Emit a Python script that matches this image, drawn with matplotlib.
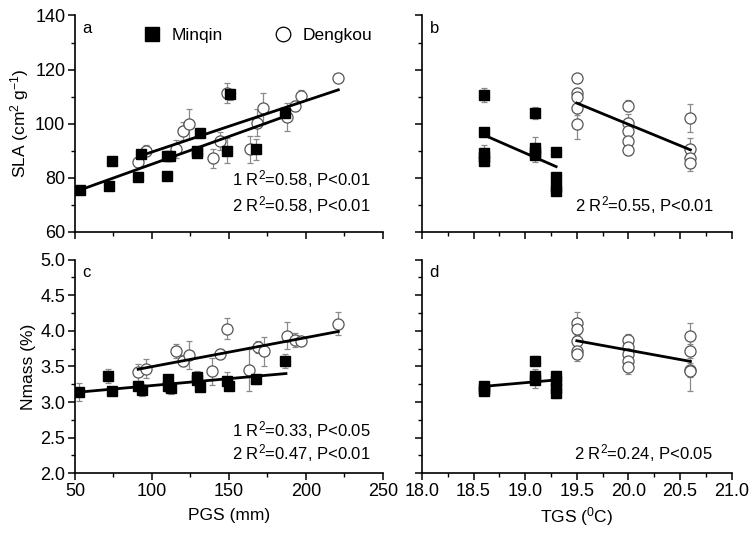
import matplotlib
matplotlib.use('Agg')
import matplotlib.pyplot as plt
from matplotlib.ticker import MultipleLocator
from matplotlib.lines import Line2D

plt.rcParams['font.family'] = ['Liberation Sans', 'DejaVu Sans']
plt.rcParams['mathtext.default'] = 'regular'

# ---- panel a: SLA vs PGS ----
a_minqin_x = [53, 72, 74, 91, 92.6, 110, 110, 112, 129, 129, 131, 148.5, 150.6, 167.5, 186.4]
a_minqin_y = [75.4, 76.9, 86.3, 80.4, 88.8, 80.6, 88.0, 88.0, 89.0, 90.0, 96.7, 90.0, 110.9, 90.5, 104.1]
a_minqin_e = [0.5, 0.5, 0.5, 0.5, 1.5, 0.5, 1.5, 1.5, 0.8, 0.8, 1.0, 4.6, 2.0, 3.8, 1.0]
a_dengkou_x = [91.1, 96, 115.5, 120.2, 124.2, 139.3, 144.4, 148.5, 163.6, 168.5, 172.4, 187.9, 192.9, 196.6, 221]
a_dengkou_y = [85.7, 90.0, 90.6, 97.2, 99.8, 87.2, 93.6, 111.3, 90.5, 100.4, 105.6, 102.3, 106.5, 110.3, 116.8]
a_dengkou_e = [1.5, 2.0, 3.5, 3.3, 5.5, 3.5, 3.4, 3.8, 5.0, 5.0, 5.7, 5.2, 2.0, 2.0, 0.5]
a_fit_minqin_x = [53, 186]
a_fit_minqin_y = [75.4, 102.6]
a_fit_dengkou_x = [91, 221]
a_fit_dengkou_y = [87.8, 112.5]

# ---- panel b: SLA vs TGS ----
b_minqin_x = [18.6, 18.6, 18.6, 18.6, 18.6, 19.1, 19.1, 19.1, 19.1, 19.3, 19.3, 19.3, 19.3]
b_minqin_y = [110.6, 96.8, 89.0, 87.8, 86.3, 103.9, 90.9, 89.6, 88.4, 89.4, 80.4, 76.7, 75.2]
b_minqin_e = [2.6, 0.5, 3.0, 0.5, 0.5, 2.2, 4.0, 0.5, 2.5, 1.0, 0.5, 0.5, 0.5]
b_dengkou_x = [19.5, 19.5, 19.5, 19.5, 19.5, 20.0, 20.0, 20.0, 20.0, 20.0, 20.6, 20.6, 20.6, 20.6]
b_dengkou_y = [116.8, 111.3, 110.0, 105.7, 99.8, 106.6, 100.4, 97.3, 93.7, 90.3, 102.2, 90.6, 87.2, 85.6]
b_dengkou_e = [0.5, 1.0, 3.0, 2.5, 5.5, 2.0, 3.0, 2.0, 2.0, 2.0, 5.2, 4.0, 2.0, 3.0]
b_fit_minqin_x = [18.6, 19.3]
b_fit_minqin_y = [95.8, 84.1]
b_fit_dengkou_x = [19.5, 20.6]
b_fit_dengkou_y = [107.6, 90.3]

# ---- panel c: Nmass vs PGS ----
c_minqin_x = [52.6, 71.6, 73.8, 90.7, 93.3, 110.2, 110.2, 112.3, 129, 129, 131.2, 148.5, 150.2, 167.5, 186.4]
c_minqin_y = [3.14, 3.37, 3.15, 3.22, 3.17, 3.33, 3.22, 3.19, 3.35, 3.31, 3.21, 3.30, 3.23, 3.32, 3.58]
c_minqin_e = [0.13, 0.10, 0.03, 0.05, 0.08, 0.05, 0.08, 0.08, 0.08, 0.05, 0.06, 0.12, 0.06, 0.06, 0.10]
c_dengkou_x = [91.1, 95.9, 115.4, 120.1, 124.2, 139.2, 144.2, 148.5, 163.2, 168.6, 172.5, 187.9, 192.9, 196.6, 221]
c_dengkou_y = [3.42, 3.47, 3.72, 3.58, 3.66, 3.43, 3.67, 4.03, 3.45, 3.77, 3.71, 3.93, 3.87, 3.86, 4.10]
c_dengkou_e = [0.12, 0.13, 0.10, 0.08, 0.19, 0.19, 0.07, 0.15, 0.30, 0.08, 0.20, 0.19, 0.10, 0.05, 0.16]
c_fit_minqin_x = [53, 187]
c_fit_minqin_y = [3.14, 3.40]
c_fit_dengkou_x = [91, 221]
c_fit_dengkou_y = [3.46, 3.99]

# ---- panel d: Nmass vs TGS ----
d_minqin_x = [18.6, 18.6, 18.6, 19.1, 19.1, 19.1, 19.3, 19.3, 19.3, 19.3]
d_minqin_y = [3.22, 3.18, 3.15, 3.58, 3.37, 3.31, 3.37, 3.30, 3.19, 3.13]
d_minqin_e = [0.06, 0.05, 0.05, 0.06, 0.10, 0.12, 0.06, 0.08, 0.05, 0.07]
d_dengkou_x = [19.5, 19.5, 19.5, 19.5, 19.5, 20.0, 20.0, 20.0, 20.0, 20.0, 20.6, 20.6, 20.6, 20.6]
d_dengkou_y = [4.11, 4.03, 3.86, 3.72, 3.67, 3.87, 3.77, 3.67, 3.58, 3.49, 3.93, 3.72, 3.45, 3.43]
d_dengkou_e = [0.15, 0.08, 0.08, 0.08, 0.10, 0.08, 0.06, 0.08, 0.08, 0.10, 0.18, 0.10, 0.10, 0.28]
d_fit_minqin_x = [18.6, 19.3]
d_fit_minqin_y = [3.22, 3.31]
d_fit_dengkou_x = [19.5, 20.6]
d_fit_dengkou_y = [3.86, 3.57]

FS = 12          # annotation / axis labels
TFS = 13         # tick labels
GRAY = '#8a8a8a'

fig = plt.figure(figsize=(7.52, 5.34), dpi=100)
ax_a = fig.add_axes([0.0997, 0.566, 0.4096, 0.405])
ax_b = fig.add_axes([0.561, 0.566, 0.412, 0.405])
ax_c = fig.add_axes([0.0997, 0.1137, 0.4096, 0.4003])
ax_d = fig.add_axes([0.561, 0.1137, 0.412, 0.4003])


def draw_panel(ax, mx, my, me, dx, dy, de, fmx, fmy, fdx, fdy):
    ax.errorbar(dx, dy, yerr=de, fmt='none', ecolor=GRAY, elinewidth=0.9,
                capsize=2, capthick=0.9, zorder=2)
    ax.errorbar(mx, my, yerr=me, fmt='none', ecolor=GRAY, elinewidth=0.9,
                capsize=2, capthick=0.9, zorder=2)
    ax.plot(dx, dy, 'o', ms=8, mfc='white', mec='#555555', mew=0.9, zorder=3)
    ax.plot(mx, my, 's', ms=6.5, mfc='black', mec='black', zorder=4)
    ax.plot(fmx, fmy, '-', color='black', lw=2, zorder=5)
    ax.plot(fdx, fdy, '-', color='black', lw=2, zorder=5)
    for s in ['top', 'right']:
        ax.spines[s].set_visible(False)
    for s in ['left', 'bottom']:
        ax.spines[s].set_linewidth(1.2)
    ax.tick_params(which='major', direction='out', length=5, width=1.1, labelsize=TFS, pad=2)
    ax.tick_params(which='minor', direction='out', length=3, width=1.0)


draw_panel(ax_a, a_minqin_x, a_minqin_y, a_minqin_e, a_dengkou_x, a_dengkou_y, a_dengkou_e,
           a_fit_minqin_x, a_fit_minqin_y, a_fit_dengkou_x, a_fit_dengkou_y)
draw_panel(ax_b, b_minqin_x, b_minqin_y, b_minqin_e, b_dengkou_x, b_dengkou_y, b_dengkou_e,
           b_fit_minqin_x, b_fit_minqin_y, b_fit_dengkou_x, b_fit_dengkou_y)
draw_panel(ax_c, c_minqin_x, c_minqin_y, c_minqin_e, c_dengkou_x, c_dengkou_y, c_dengkou_e,
           c_fit_minqin_x, c_fit_minqin_y, c_fit_dengkou_x, c_fit_dengkou_y)
draw_panel(ax_d, d_minqin_x, d_minqin_y, d_minqin_e, d_dengkou_x, d_dengkou_y, d_dengkou_e,
           d_fit_minqin_x, d_fit_minqin_y, d_fit_dengkou_x, d_fit_dengkou_y)

for ax in [ax_a, ax_c]:
    ax.set_xlim(50, 250)
    ax.xaxis.set_major_locator(MultipleLocator(50))
    ax.xaxis.set_minor_locator(MultipleLocator(25))
for ax in [ax_b, ax_d]:
    ax.set_xlim(18.0, 21.0)
    ax.xaxis.set_major_locator(MultipleLocator(0.5))
    ax.xaxis.set_minor_locator(MultipleLocator(0.25))
    ax.xaxis.set_major_formatter(plt.FormatStrFormatter('%.1f'))
for ax in [ax_a, ax_b]:
    ax.set_ylim(60, 140)
    ax.yaxis.set_major_locator(MultipleLocator(20))
    ax.yaxis.set_minor_locator(MultipleLocator(10))
    ax.tick_params(labelbottom=False)
for ax in [ax_c, ax_d]:
    ax.set_ylim(2.0, 5.0)
    ax.yaxis.set_major_locator(MultipleLocator(0.5))
    ax.yaxis.set_minor_locator(MultipleLocator(0.25))
    ax.yaxis.set_major_formatter(plt.FormatStrFormatter('%.1f'))
for ax in [ax_b, ax_d]:
    ax.tick_params(labelleft=False)

ax_a.set_ylabel('SLA (cm$^2$ g$^{-1}$)', fontsize=12.5, labelpad=3)
ax_c.set_ylabel('Nmass (%)', fontsize=12.5, labelpad=3)
ax_c.set_xlabel('PGS (mm)', fontsize=12.5, labelpad=6)
ax_d.set_xlabel('TGS ($^0$C)', fontsize=12.5, labelpad=4)

for ax, lab in [(ax_a, 'a'), (ax_b, 'b'), (ax_c, 'c'), (ax_d, 'd')]:
    ax.text(0.025, 0.975, lab, transform=ax.transAxes, fontsize=FS, va='top', ha='left')

ax_a.text(0.96, 0.245, '1 R$^2$=0.58, P<0.01', transform=ax_a.transAxes, fontsize=FS, ha='right', va='center')
ax_a.text(0.96, 0.125, '2 R$^2$=0.58, P<0.01', transform=ax_a.transAxes, fontsize=FS, ha='right', va='center')
ax_b.text(0.94, 0.125, '2 R$^2$=0.55, P<0.01', transform=ax_b.transAxes, fontsize=FS, ha='right', va='center')
ax_c.text(0.96, 0.20, '1 R$^2$=0.33, P<0.05', transform=ax_c.transAxes, fontsize=FS, ha='right', va='center')
ax_c.text(0.96, 0.095, '2 R$^2$=0.47, P<0.01', transform=ax_c.transAxes, fontsize=FS, ha='right', va='center')
ax_d.text(0.94, 0.095, '2 R$^2$=0.24, P<0.05', transform=ax_d.transAxes, fontsize=FS, ha='right', va='center')

handles = [Line2D([], [], ls='none', marker='s', ms=10, mfc='black', mec='black'),
           Line2D([], [], ls='none', marker='o', ms=10.5, mfc='white', mec='black', mew=0.9)]
ax_a.legend(handles, ['Minqin', 'Dengkou'], loc='upper left', bbox_to_anchor=(0.2, 0.975),
            ncol=2, frameon=False, fontsize=12.5, handlelength=1.0, handletextpad=0.6,
            columnspacing=3.0, borderaxespad=0)

fig.savefig('out.png', dpi=100)
